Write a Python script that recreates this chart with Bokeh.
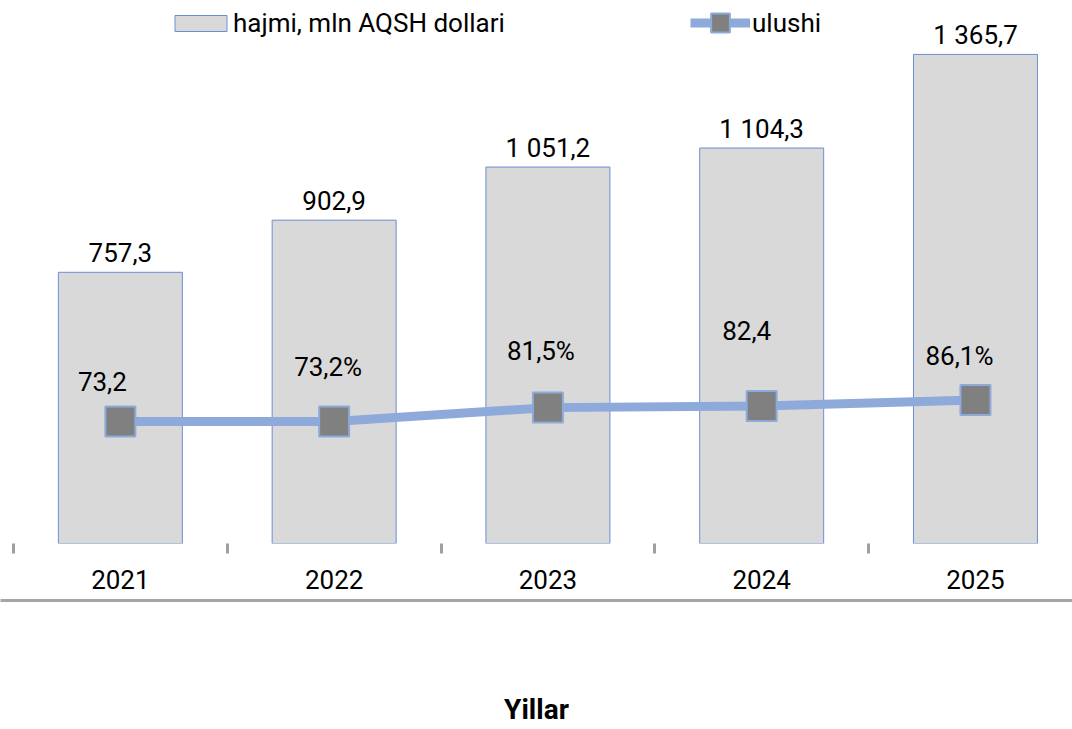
from bokeh.plotting import figure
from bokeh.models import (ColumnDataSource, Range1d, LinearAxis, FixedTicker,
                          Legend, LegendItem, LabelSet)
from bokeh.core.properties import value
from bokeh.embed import file_html
from bokeh.resources import INLINE

# ---- data ----
years = ["2021", "2022", "2023", "2024", "2025"]
volume = [757.3, 902.9, 1051.2, 1104.3, 1365.7]
volume_labels = ["757,3", "902,9", "1 051,2", "1 104,3", "1 365,7"]
share = [73.2, 73.2, 81.5, 82.4, 86.1]
share_labels = ["73,2", "73,2%", "81,5%", "82,4", "86,1%"]

# ---- style ----
FONT = "Roboto"
share_label_dx = [-18, -6, -7, -15, -16]
share_label_dy = [30, 45, 48, 66, 35]

centers = [i + 0.5 for i in range(len(years))]
bounds = [float(i) for i in range(len(years))]

src = ColumnDataSource(dict(
    x=centers, volume=volume, vlab=volume_labels,
    share=share, slab=share_labels, dx=share_label_dx, dy=share_label_dy,
))

p = figure(width=1072, height=729, output_backend="svg", toolbar_location=None,
           x_range=Range1d(-0.0608, 4.954), y_range=Range1d(0, 1516.3),
           x_axis_location=None, y_axis_location=None,
           min_border_left=0, min_border_right=0, min_border_top=0,
           min_border_bottom=186)
p.extra_y_ranges = {"share": Range1d(0, 325.7)}
p.outline_line_color = None
p.xgrid.visible = False
p.ygrid.visible = False
p.background_fill_color = "white"

bars = p.vbar(x="x", top="volume", bottom=0, width=0.58, source=src,
              fill_color="#d9d9d9", line_color="#6a8ed6", line_width=1)

line = p.line(x="x", y="share", source=src, y_range_name="share",
              line_color="#8eaadb", line_width=9)
marks = p.scatter(x="x", y="share", source=src, y_range_name="share",
                  marker="square", size=30, fill_color="#808080",
                  line_color="#8eaadb", line_width=2)

p.add_layout(LabelSet(x="x", y="volume", text="vlab", source=src,
                      text_align="center", text_baseline="alphabetic",
                      y_offset=10, text_font=value(FONT),
                      text_font_size="26px", text_color="black"))
p.add_layout(LabelSet(x="x", y="share", text="slab", source=src,
                      y_range_name="share", x_offset="dx", y_offset="dy",
                      text_align="center", text_baseline="alphabetic",
                      text_font=value(FONT), text_font_size="26px",
                      text_color="black"))

# category axis: labels at centers, small tick marks at category boundaries
xax = LinearAxis(ticker=FixedTicker(ticks=centers, minor_ticks=bounds),
                 major_label_overrides={c: y for c, y in zip(centers, years)})
xax.axis_line_color = None
xax.major_tick_line_color = None
xax.major_tick_out = 0
xax.major_tick_in = 0
xax.minor_tick_line_color = "#a0a0a0"
xax.minor_tick_line_width = 3
xax.minor_tick_out = 10
xax.minor_tick_in = 0
xax.major_label_standoff = 16
xax.major_label_text_font = FONT
xax.major_label_text_font_size = "26px"
xax.major_label_text_color = "black"
xax.axis_label = " "
xax.axis_label_standoff = 0
xax.axis_label_text_font_size = "5px"
p.add_layout(xax, "below")

# baseline with axis title
bax = LinearAxis(ticker=FixedTicker(ticks=[]), axis_label="Yillar")
bax.axis_line_color = "#a6a6a6"
bax.axis_line_width = 3
bax.major_tick_line_color = None
bax.minor_tick_line_color = None
bax.major_label_text_font_size = "0px"
bax.axis_label_standoff = 92
bax.axis_label_text_font = FONT
bax.axis_label_text_font_size = "28px"
bax.axis_label_text_font_style = "bold"
bax.axis_label_text_color = "black"
p.add_layout(bax, "below")

leg1 = Legend(items=[LegendItem(label="hajmi, mln AQSH dollari", renderers=[bars])],
              location=(168, 505), orientation="horizontal",
              glyph_width=65, glyph_height=20, label_standoff=0,
              padding=0, margin=0, border_line_color=None,
              background_fill_alpha=0, label_text_font=FONT,
              label_text_font_size="26px", label_text_color="black")
leg2 = Legend(items=[LegendItem(label="ulushi", renderers=[line, marks])],
              location=(690, 497), orientation="horizontal",
              glyph_width=60, glyph_height=47, label_standoff=2,
              padding=0, margin=0, border_line_color=None,
              background_fill_alpha=0, label_text_font=FONT,
              label_text_font_size="26px", label_text_color="black")
p.add_layout(leg1)
p.add_layout(leg2)

open("out.html", "w").write(file_html(p, INLINE))
